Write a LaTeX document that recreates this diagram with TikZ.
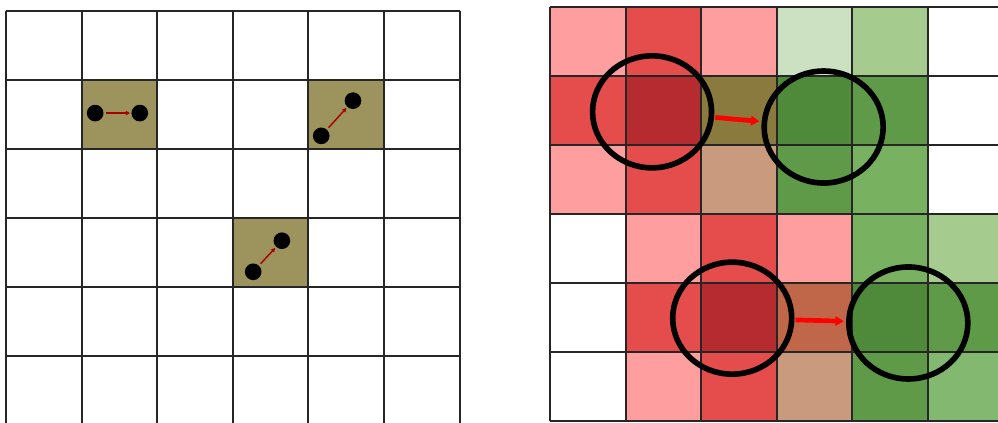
\documentclass[tikz,border=0pt]{standalone}
\usetikzlibrary{shapes.geometric,arrows.meta}

\definecolor{olv}{RGB}{156,148,92}
\definecolor{olvdark}{RGB}{138,122,62}
\definecolor{pinkc}{RGB}{255,158,158}
\definecolor{redc}{RGB}{229,76,76}
\definecolor{dredc}{RGB}{181,43,47}
\definecolor{tanc}{RGB}{201,154,125}
\definecolor{rustc}{RGB}{192,103,74}
\definecolor{lgreen}{RGB}{204,224,194}
\definecolor{mgreen}{RGB}{166,203,142}
\definecolor{dgreen}{RGB}{79,138,58}
\definecolor{greenb}{RGB}{95,154,72}
\definecolor{greenc}{RGB}{120,177,96}
\definecolor{greend}{RGB}{130,184,112}

\tikzset{
  gridline/.style={step=1,black!85,line width=1.7pt},
  dot/.style={circle,fill=black,inner sep=0,minimum size=0.5cm},
  pairarrow/.style={-{Triangle[length=3.5pt,width=3.5pt]},red!65!black,line width=1.2pt,shorten <=2pt,shorten >=1pt},
  ring/.style={ellipse,draw=black,line width=4.8pt,inner sep=0,minimum width=3.57cm,minimum height=3.36cm},
  shiftarrow/.style={-{Triangle[length=7pt,width=8pt]},red,line width=4pt,shorten <=1pt,shorten >=2pt}
}

\begin{document}
\begin{tikzpicture}[x=2.268cm,y=2.07cm]
  \useasboundingbox (0,0) rectangle (13.201,6.130);
  \clip (0,0) rectangle (13.201,6.130);
  \fill[white] (0,0) rectangle (13.201,6.130);

  % left: point pairs
  \begin{scope}[shift={(0.079,-0.029)}]
    \foreach \x/\y in {1/4,4/4,3/2}
      \fill[olv] (\x,\y) rectangle ++(1,1);
    \draw[gridline] (0,0) grid (6,6);

    \node[dot] (a1) at (1.18,4.52) {};
    \node[dot] (a2) at (1.77,4.52) {};
    \node[dot] (b1) at (4.17,4.19) {};
    \node[dot] (b2) at (4.59,4.70) {};
    \node[dot] (c1) at (3.27,2.22) {};
    \node[dot] (c2) at (3.65,2.67) {};
    \draw[pairarrow] (a1) -- (a2);
    \draw[pairarrow] (b1) -- (b2);
    \draw[pairarrow] (c1) -- (c2);
  \end{scope}

  % right: smoothed cells and matched regions
  \begin{scope}[shift={(7.275,0.029)}]
    \foreach \x/\y/\c in {0/5/pinkc,1/5/redc,2/5/pinkc,3/5/lgreen,4/5/mgreen,
                          0/4/redc,1/4/dredc,2/4/olvdark,3/4/dgreen,4/4/greenb,
                          0/3/pinkc,1/3/redc,2/3/tanc,3/3/greenb,4/3/greenc,
                          1/2/pinkc,2/2/redc,3/2/pinkc,4/2/greenc,5/2/mgreen,
                          1/1/redc,2/1/dredc,3/1/rustc,4/1/dgreen,5/1/greenb,
                          1/0/pinkc,2/0/redc,3/0/tanc,4/0/greenb,5/0/greend}
      \fill[\c] (\x,\y) rectangle ++(1,1);
    \draw[gridline] (0,0) grid (6,6);

    \node[ring] (p1) at (1.35,4.48) {};
    \node[ring] (q1) at (3.62,4.26) {};
    \node[ring] (p2) at (2.41,1.49) {};
    \node[ring] (q2) at (4.74,1.42) {};
    \draw[shiftarrow] (p1) -- (q1);
    \draw[shiftarrow] (p2) -- (q2);
  \end{scope}
\end{tikzpicture}
\end{document}
